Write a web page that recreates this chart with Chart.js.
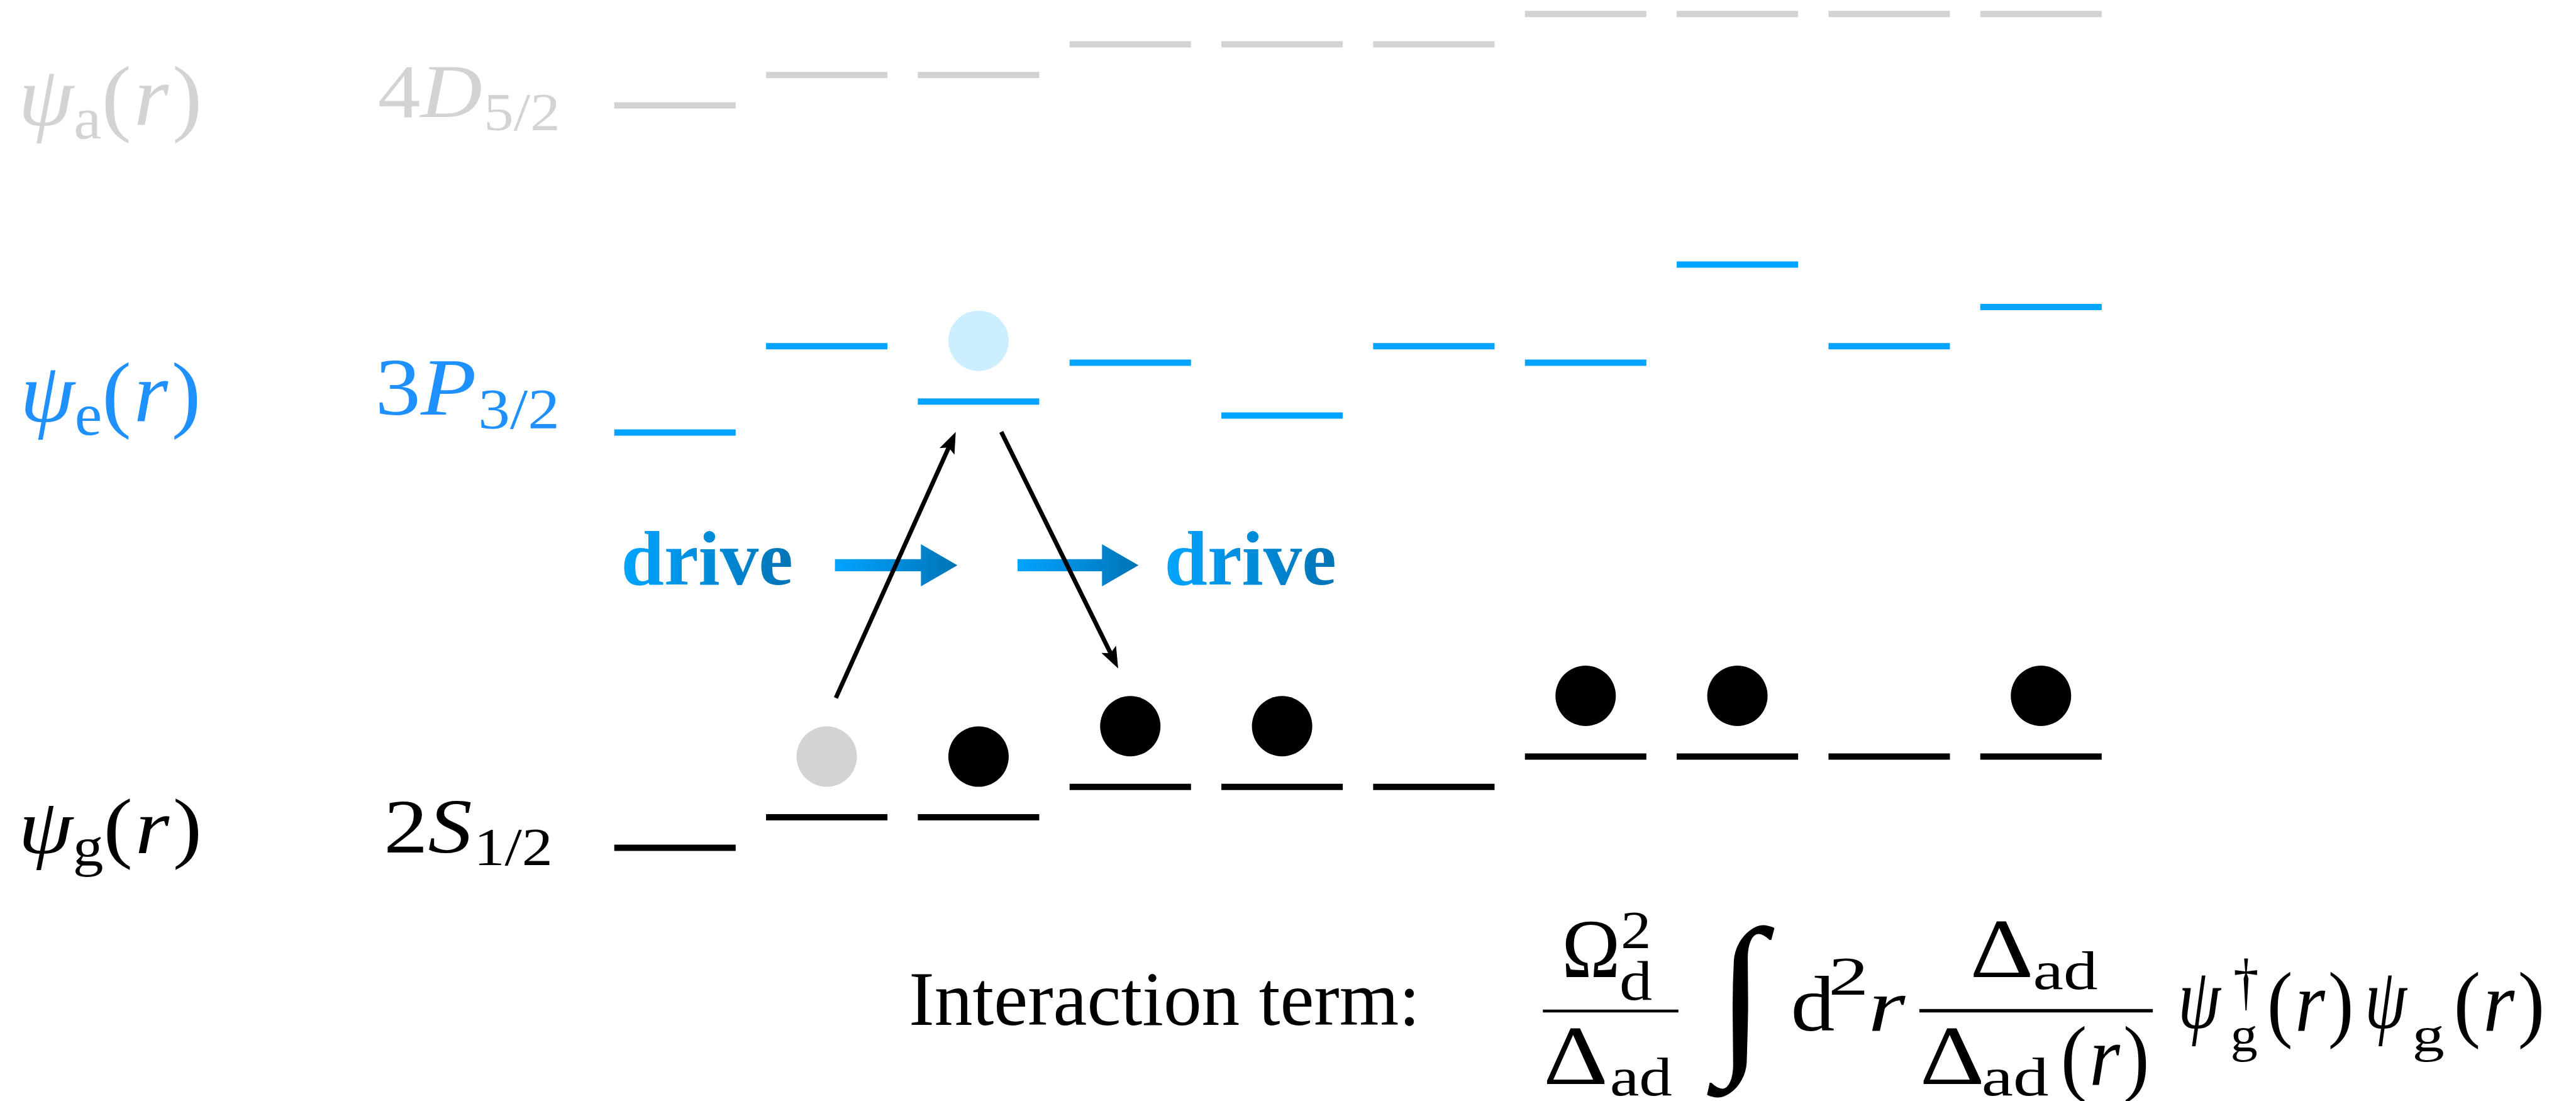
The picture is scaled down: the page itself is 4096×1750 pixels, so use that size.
<!DOCTYPE html>
<html>
<head>
<meta charset="utf-8">
<script src="https://cdn.jsdelivr.net/npm/chart.js@4.4.1/dist/chart.umd.min.js"></script>
<style>
  html, body { margin: 0; padding: 0; background: #fff; overflow: hidden; }
  #wrap { width: 4096px; height: 1750px; }
</style>
</head>
<body>
<div id="wrap"><canvas id="c" width="4096" height="1750"></canvas></div>
<script>
// ---- data -------------------------------------------------------------
// lattice sites along the chain
const sites = [0, 1, 2, 3, 4, 5, 6, 7, 8, 9];
// level energies, in units of the ground-state step between neighbouring groups
const groundLevels  = [0, 1, 1, 2, 2, 2, 3, 3, 3, 3];
const excitedLevels = [13.67, 16.51, 14.69, 15.97, 14.23, 16.51, 15.97, 19.20, 16.51, 17.80];
const auxLevels     = [24.44, 25.44, 25.44, 26.45, 26.45, 26.45, 27.45, 27.45, 27.45, 27.45];
// occupation: 0 = empty, 1 = atom, 2 = atom that has left the site
const groundOccupation  = [0, 2, 1, 1, 1, 0, 1, 1, 0, 1];
const excitedOccupation = [0, 0, 1, 0, 0, 0, 0, 0, 0, 0];
// hopping path: [site0, energy0, site1, energy1]
const transitionUp   = [1.06, 4.93, 1.85, 13.69];
const transitionDown = [2.15, 13.69, 2.92, 5.90];
// drive arrows: [siteStart, siteEnd], drawn at one energy
const driveArrows = [[1.054, 1.861], [2.257, 3.054]];
const driveEnergy = 9.30;

// ---- styling ----------------------------------------------------------
const GRAY = '#d3d3d3', BLUE = '#00a4ff', TEXT_BLUE = '#1e90ff', PALE = '#cceeff';
const HALF_WIDTH = 0.4;   // half length of a level bar, in sites
const ATOM_LIFT = 2;      // atom centre above its level, in energy units
const FRAME_W = 4523;     // width of the layout frame used for typeset labels

function levelData(levels) {
  const d = [];
  sites.forEach((s, i) => {
    d.push({ x: s - HALF_WIDTH, y: levels[i] }, { x: s + HALF_WIDTH, y: levels[i] }, { x: s + 0.5, y: null });
  });
  return d;
}
const atomPoints = [], atomColors = [];
sites.forEach((s, i) => {
  if (groundOccupation[i] > 0) {
    atomPoints.push({ x: s, y: groundLevels[i] + ATOM_LIFT });
    atomColors.push(groundOccupation[i] === 1 ? '#000' : GRAY);
  }
  if (excitedOccupation[i] > 0) {
    atomPoints.push({ x: s, y: excitedLevels[i] + ATOM_LIFT });
    atomColors.push(PALE);
  }
});

// ---- text helpers -----------------------------------------------------
const FACE = '"Liberation Serif", "Times New Roman", serif';
function fontFor(st, px) {
  if (st === 'i') return 'italic ' + px + 'px ' + FACE;
  if (st === 'b') return 'bold ' + px + 'px ' + FACE;
  return px + 'px ' + FACE;
}
// runs: [text, style, relSize, relBaselineShift, extraGap]; box: ink box [x0,x1,y0,y1] in frame units
function fitText(ctx, runs, box, fill, S) {
  const base = 100;
  let pen = 0, x0 = Infinity, x1 = -Infinity, y0 = Infinity, y1 = -Infinity;
  const placed = [];
  for (const r of runs) {
    const t = r[0], st = r[1], sz = r[2] || 1, dy = r[3] || 0;
    const font = fontFor(st, base * sz);
    ctx.font = font;
    const m = ctx.measureText(t);
    const by = dy * base;
    x0 = Math.min(x0, pen - m.actualBoundingBoxLeft);
    x1 = Math.max(x1, pen + m.actualBoundingBoxRight);
    y0 = Math.min(y0, by - m.actualBoundingBoxAscent);
    y1 = Math.max(y1, by + m.actualBoundingBoxDescent);
    placed.push({ t, font, x: pen, y: by });
    pen += m.width + (r[4] || 0) * base;
  }
  const X0 = box[0] * S, X1 = box[1] * S, Y0 = box[2] * S, Y1 = box[3] * S;
  const sx = (X1 - X0) / (x1 - x0), sy = (Y1 - Y0) / (y1 - y0);
  ctx.save();
  ctx.translate(X0 - x0 * sx, Y0 - y0 * sy);
  ctx.scale(sx, sy);
  ctx.fillStyle = typeof fill === 'function' ? fill(ctx, x0, x1) : fill;
  ctx.textBaseline = 'alphabetic';
  ctx.textAlign = 'left';
  for (const p of placed) { ctx.font = p.font; ctx.fillText(p.t, p.x, p.y); }
  ctx.restore();
}
function blueFade(ctx, a, b) {
  const g = ctx.createLinearGradient(a, 0, b, 0);
  g.addColorStop(0, '#00a4ff');
  g.addColorStop(1, '#0074b6');
  return g;
}

// row labels
const rowLabels = [
  { runs: [['ψ', 'i'], ['a', 'r', 0.7, 0.15], ['(', 'r', 1, 0, 0.03], ['r', 'i', 1, 0, 0.04], [')', 'r']], box: [40, 348, 116, 253], color: GRAY },
  { runs: [['4', 'r'], ['D', 'i', 1, 0, 0.02], ['5/2', 'r', 0.7, 0.17]], box: [665, 979, 119, 230], color: GRAY },
  { runs: [['ψ', 'i'], ['e', 'r', 0.7, 0.15], ['(', 'r', 1, 0, 0.03], ['r', 'i', 1, 0, 0.04], [')', 'r']], box: [43, 346, 636, 773], color: TEXT_BLUE },
  { runs: [['3', 'r'], ['P', 'i', 1, 0, 0.02], ['3/2', 'r', 0.7, 0.17]], box: [665, 978, 633, 753], color: TEXT_BLUE },
  { runs: [['ψ', 'i'], ['g', 'r', 0.7, 0.15], ['(', 'r', 1, 0, 0.03], ['r', 'i', 1, 0, 0.04], [')', 'r']], box: [40, 348, 1402, 1539], color: '#000' },
  { runs: [['2', 'r'], ['S', 'i', 1, 0, 0.02], ['1/2', 'r', 0.7, 0.17]], box: [680, 966, 1407, 1520], color: '#000' }
];
// interaction term, piece by piece
const paren = [['(', 'r', 1, 0, 0.03], ['r', 'i', 1, 0, 0.04], [')', 'r']];
const formula = [
  { runs: [['Interaction term:', 'r']], box: [1600, 2483, 1709, 1800] },
  { runs: [['Ω', 'r']], box: [2749, 2839, 1618, 1716] },
  { runs: [['2', 'r']], box: [2850, 2894, 1602, 1665] },
  { runs: [['d', 'r']], box: [2847, 2900, 1687, 1756] },
  { runs: [['Δ', 'r']], box: [2715, 2818, 1805, 1903] },
  { runs: [['ad', 'r']], box: [2830, 2935, 1857, 1924] },
  { runs: [['∫', 'i']], box: [2995, 3117, 1622, 1927] },
  { runs: [['d', 'r']], box: [3149, 3220, 1713, 1810] },
  { runs: [['2', 'r']], box: [3216, 3274, 1683, 1747] },
  { runs: [['r', 'i']], box: [3287, 3347, 1747, 1810] },
  { runs: [['Δ', 'r']], box: [3464, 3565, 1617, 1715] },
  { runs: [['ad', 'r']], box: [3573, 3682, 1670, 1737] },
  { runs: [['Δ', 'r']], box: [3376, 3479, 1805, 1903] },
  { runs: [['ad', 'r']], box: [3483, 3596, 1857, 1924] },
  { runs: paren, box: [3624, 3768, 1800, 1938] },
  { runs: [['ψ', 'i']], box: [3830, 3901, 1713, 1837] },
  { runs: [['†', 'r']], box: [3924, 3963, 1683, 1773] },
  { runs: [['g', 'r']], box: [3920, 3963, 1800, 1863] },
  { runs: paren, box: [3986, 4127, 1705, 1843] },
  { runs: [['ψ', 'i']], box: [4158, 4228, 1713, 1837] },
  { runs: [['g', 'r']], box: [4240, 4291, 1800, 1863] },
  { runs: paren, box: [4314, 4462, 1705, 1843] }
];
const fractionBars = [[2709, 2947, 1772, 1777], [3370, 3780, 1771, 1777]];
const driveLabels = [[1096, 1389, 932, 1027], [2050, 2343, 932, 1027]];

// ---- overlay: arrows and typeset text ---------------------------------
const overlay = {
  id: 'overlay',
  afterDatasetsDraw(chart) {
    const ctx = chart.ctx, xs = chart.scales.x, ys = chart.scales.y;
    const S = chart.width / FRAME_W;

    // drive arrows
    driveArrows.forEach(([a, b]) => {
      const p0 = xs.getPixelForValue(a), p1 = xs.getPixelForValue(b), py = ys.getPixelForValue(driveEnergy);
      const headL = 58, headH = 33.5, shaft = 9.6;
      ctx.save();
      ctx.fillStyle = blueFade(ctx, p0, p1);
      ctx.beginPath();
      ctx.moveTo(p0, py - shaft);
      ctx.lineTo(p1 - headL, py - shaft);
      ctx.lineTo(p1 - headL, py - headH);
      ctx.lineTo(p1, py);
      ctx.lineTo(p1 - headL, py + headH);
      ctx.lineTo(p1 - headL, py + shaft);
      ctx.lineTo(p0, py + shaft);
      ctx.closePath();
      ctx.fill();
      ctx.restore();
    });

    // hopping path
    [transitionUp, transitionDown].forEach(t => {
      const ax = xs.getPixelForValue(t[0]), ay = ys.getPixelForValue(t[1]);
      const bx = xs.getPixelForValue(t[2]), by = ys.getPixelForValue(t[3]);
      const len = Math.hypot(bx - ax, by - ay), ux = (bx - ax) / len, uy = (by - ay) / len;
      const nx = -uy, ny = ux, L = 34, W = 13;
      ctx.save();
      ctx.strokeStyle = '#000';
      ctx.fillStyle = '#000';
      ctx.lineWidth = 7;
      ctx.beginPath();
      ctx.moveTo(ax, ay);
      ctx.lineTo(bx - ux * L * 0.7, by - uy * L * 0.7);
      ctx.stroke();
      ctx.beginPath();
      ctx.moveTo(bx, by);
      ctx.lineTo(bx - ux * L + nx * W, by - uy * L + ny * W);
      ctx.lineTo(bx - ux * L * 0.8, by - uy * L * 0.8);
      ctx.lineTo(bx - ux * L - nx * W, by - uy * L - ny * W);
      ctx.closePath();
      ctx.fill();
      ctx.restore();
    });

    // labels
    driveLabels.forEach(b => fitText(ctx, [['drive', 'b']], b, blueFade, S));
    rowLabels.forEach(l => fitText(ctx, l.runs, l.box, l.color, S));
    formula.forEach(f => fitText(ctx, f.runs, f.box, '#000', S));
    ctx.save();
    ctx.fillStyle = '#000';
    fractionBars.forEach(b => ctx.fillRect(b[0] * S, b[2] * S, (b[1] - b[0]) * S, (b[3] - b[2]) * S));
    ctx.restore();
  }
};

const lineStyle = { showLine: true, borderWidth: 10, pointRadius: 0, spanGaps: false, tension: 0, borderCapStyle: 'butt' };

new Chart(document.getElementById('c'), {
  type: 'scatter',
  data: {
    datasets: [
      Object.assign({ label: 'auxiliary', data: levelData(auxLevels), borderColor: GRAY }, lineStyle),
      Object.assign({ label: 'excited', data: levelData(excitedLevels), borderColor: BLUE }, lineStyle),
      Object.assign({ label: 'ground', data: levelData(groundLevels), borderColor: '#000' }, lineStyle),
      { label: 'atoms', data: atomPoints, pointRadius: 48, pointBackgroundColor: atomColors, pointBorderWidth: 0, pointBorderColor: 'rgba(0,0,0,0)', showLine: false, clip: false }
    ]
  },
  options: {
    responsive: false,
    animation: false,
    devicePixelRatio: 1,
    events: [],
    layout: { padding: 0, autoPadding: false },
    plugins: { legend: { display: false }, tooltip: { enabled: false } },
    scales: {
      x: { type: 'linear', min: -4.447, max: 12.525, display: false },
      y: { type: 'linear', min: -8.34, max: 27.91, display: false }
    }
  },
  plugins: [overlay]
});
</script>
</body>
</html>
